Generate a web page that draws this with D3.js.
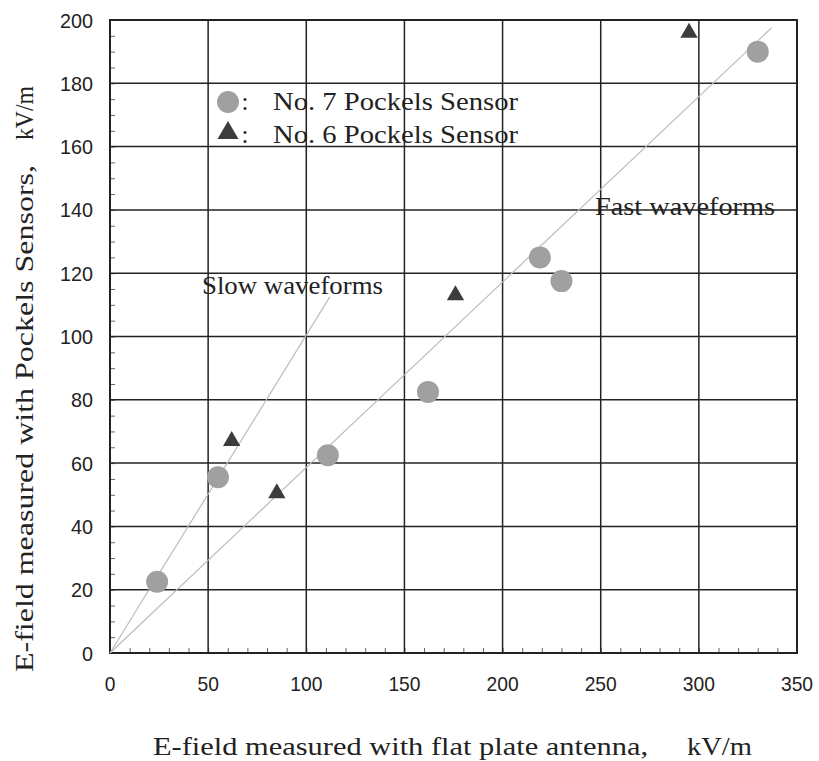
<!DOCTYPE html>
<html>
<head>
<meta charset="utf-8">
<script src="https://cdn.jsdelivr.net/npm/d3@7"></script>
<style>
  html, body { margin: 0; padding: 0; background: #fff; }
  svg { display: block; }
  .serif { font-family: "Liberation Serif", "DejaVu Serif", serif; fill: #222; }
  .tick-label { font-family: "Liberation Sans", Arial, sans-serif; font-size: 21px; fill: #222; }
</style>
</head>
<body>
<svg id="chart" width="819" height="761"></svg>
<script>
// data
const no7X = [24, 55, 111, 162, 219, 230, 330];
const no7Y = [22.5, 55.5, 62.5, 82.5, 125, 117.5, 190];
const no6X = [62, 85, 176, 295];
const no6Y = [67, 50.5, 113, 196];

const slowLineX = [0, 112];
const slowLineY = [0, 112.5];
const fastLineX = [0, 337];
const fastLineY = [0, 197.5];

const xTicks = [0, 50, 100, 150, 200, 250, 300, 350];
const yTicks = [0, 20, 40, 60, 80, 100, 120, 140, 160, 180, 200];

const margin = { top: 20, right: 22, bottom: 108, left: 110 };
const width = 819 - margin.left - margin.right;
const height = 761 - margin.top - margin.bottom;

const svg = d3.select('#chart');
const g = svg.append('g').attr('transform', `translate(${margin.left},${margin.top})`);

const x = d3.scaleLinear().domain([0, 350]).range([0, width]);
const y = d3.scaleLinear().domain([0, 200]).range([height, 0]);

// serif label helper, stretched to the width measured on the reference
function label(parent, txt, px, py, len, rotate) {
    const t = parent.append('text').attr('class', 'serif')
        .attr('font-size', 25)
        .attr('textLength', len)
        .attr('lengthAdjust', 'spacingAndGlyphs')
        .text(txt);
    if (rotate) t.attr('transform', `translate(${px},${py}) rotate(-90)`);
    else t.attr('x', px).attr('y', py);
    return t;
}

// minor ticks (inside the plot)
g.append('g')
    .call(d3.axisRight(y).tickValues(d3.range(0, 201, 5)).tickSize(5).tickFormat(''))
    .call(a => a.select('.domain').remove())
    .selectAll('line').attr('stroke', '#666');
g.append('g')
    .attr('transform', `translate(0,${height})`)
    .call(d3.axisTop(x).tickValues(d3.range(0, 351, 10)).tickSize(5).tickFormat(''))
    .call(a => a.select('.domain').remove())
    .selectAll('line').attr('stroke', '#666');

// major grid
g.append('g')
    .selectAll('line')
    .data(xTicks)
    .join('line')
    .attr('x1', d => x(d)).attr('x2', d => x(d))
    .attr('y1', 0).attr('y2', height)
    .attr('stroke', '#222').attr('stroke-width', 1.5);
g.append('g')
    .selectAll('line')
    .data(yTicks)
    .join('line')
    .attr('x1', 0).attr('x2', width)
    .attr('y1', d => y(d)).attr('y2', d => y(d))
    .attr('stroke', '#222').attr('stroke-width', 1.5);

g.append('rect')
    .attr('width', width).attr('height', height)
    .attr('fill', 'none').attr('stroke', '#222').attr('stroke-width', 2);

// tick labels
g.append('g')
    .selectAll('text')
    .data(yTicks)
    .join('text')
    .attr('class', 'tick-label')
    .attr('x', -17)
    .attr('y', d => y(d))
    .attr('dy', '0.36em')
    .attr('text-anchor', 'end')
    .attr('textLength', d => String(d).length * 11)
    .attr('lengthAdjust', 'spacingAndGlyphs')
    .text(d => d);
g.append('g')
    .selectAll('text')
    .data(xTicks)
    .join('text')
    .attr('class', 'tick-label')
    .attr('x', d => x(d))
    .attr('y', height + 30)
    .attr('dy', '0.36em')
    .attr('text-anchor', 'middle')
    .attr('textLength', d => String(d).length * 10.7)
    .attr('lengthAdjust', 'spacingAndGlyphs')
    .text(d => d);

// fit lines
const line = d3.line().x(d => x(d[0])).y(d => y(d[1]));
g.append('path')
    .attr('d', line(d3.zip(slowLineX, slowLineY)))
    .attr('fill', 'none').attr('stroke', '#bbb').attr('stroke-width', 1.2);
g.append('path')
    .attr('d', line(d3.zip(fastLineX, fastLineY)))
    .attr('fill', 'none').attr('stroke', '#bbb').attr('stroke-width', 1.2);

// annotations
label(g, 'Slow waveforms', 92, 274, 181);
label(g, 'Fast waveforms', 485, 195, 180);

// points
g.append('g')
    .selectAll('circle')
    .data(d3.zip(no7X, no7Y))
    .join('circle')
    .attr('cx', d => x(d[0]))
    .attr('cy', d => y(d[1]))
    .attr('r', 11)
    .attr('fill', '#a0a0a0');

const tri = d3.symbol().type(d3.symbolTriangle).size(130);
g.append('g')
    .selectAll('path')
    .data(d3.zip(no6X, no6Y))
    .join('path')
    .attr('d', tri)
    .attr('transform', d => `translate(${x(d[0])},${y(d[1])})`)
    .attr('fill', '#3c3c3c');

// legend
const legend = svg.append('g');
legend.append('circle').attr('cx', 228).attr('cy', 102).attr('r', 11).attr('fill', '#a0a0a0');
legend.append('path').attr('d', d3.symbol().type(d3.symbolTriangle).size(190)())
    .attr('transform', 'translate(228,133)').attr('fill', '#3c3c3c');
[[110, 'No. 7 Pockels Sensor'], [143, 'No. 6 Pockels Sensor']].forEach(([yy, t]) => {
    legend.append('text').attr('class', 'serif').attr('x', 245).attr('y', yy)
        .attr('font-size', 25).attr('text-anchor', 'middle').text(':');
    label(legend, t, 273, yy, 245);
});

// axis titles
label(svg, 'E-field measured with flat plate antenna,', 153, 755, 495);
label(svg, 'kV/m', 687, 755, 65);
label(svg, 'E-field measured with Pockels Sensors,', 33, 672, 507, true);
label(svg, 'kV/m', 33, 140, 54, true);
</script>
</body>
</html>
